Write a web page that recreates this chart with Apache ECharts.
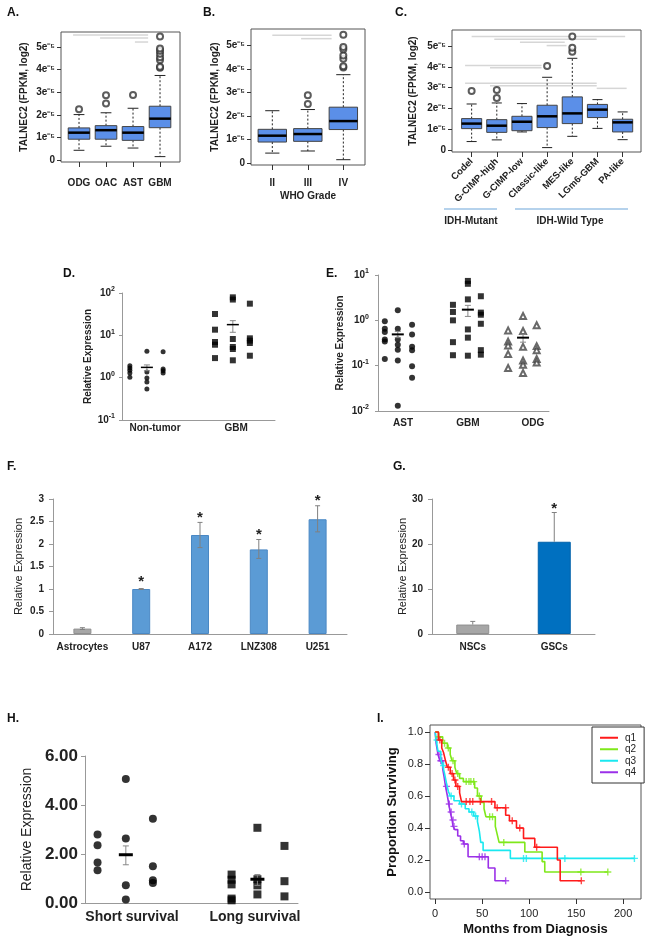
<!DOCTYPE html>
<html>
<head>
<meta charset="utf-8">
<script src="https://cdn.jsdelivr.net/npm/echarts@6/dist/echarts.min.js"></script>
<style>html,body{margin:0;padding:0;background:#fff}</style>
</head>
<body>
<div id="main" style="width:650px;height:947px"></div>
<script>
var FONT = '"Liberation Sans", Arial, sans-serif';

// ---- A: TCGA histology (values in 1e-5)
var catsA = ['ODG', 'OAC', 'AST', 'GBM'];
var boxA = [[0.43, 0.92, 1.21, 1.42, 2.01], [0.61, 0.92, 1.32, 1.52, 2.09], [0.53, 0.87, 1.21, 1.48, 2.29], [0.15, 1.43, 1.83, 2.38, 3.74]];
var outA = [[0, 2.25], [1, 2.5], [1, 2.87], [2, 2.88], [3, 4.08], [3, 4.13], [3, 4.42], [3, 4.55], [3, 4.7], [3, 4.83], [3, 4.93], [3, 5.47]];
var sigA = [[-0.22, 2.56, 5.53], [0.78, 2.56, 5.4], [2.07, 2.56, 5.22]];

// ---- B: WHO grade
var catsB = ['II', 'III', 'IV'];
var boxB = [[0.42, 0.89, 1.16, 1.43, 2.22], [0.51, 0.92, 1.23, 1.46, 2.27], [0.14, 1.42, 1.78, 2.37, 3.75]];
var outB = [[1, 2.51], [1, 2.88], [2, 4.05], [2, 4.11], [2, 4.43], [2, 4.57], [2, 4.83], [2, 4.93], [2, 5.45]];
var sigB = [[0, 1.67, 5.42], [0.81, 1.67, 5.28]];

// ---- C: subtypes
var catsC = ['Codel', 'G-CIMP-high', 'G-CIMP-low', 'Classic-like', 'MES-like', 'LGm6-GBM', 'PA-like'];
var boxC = [[0.42, 1.04, 1.28, 1.52, 2.22], [0.5, 0.86, 1.18, 1.47, 2.27], [0.88, 0.94, 1.37, 1.63, 2.24], [0.13, 1.09, 1.63, 2.16, 3.5],
            [0.67, 1.28, 1.77, 2.56, 4.41], [1.05, 1.57, 1.95, 2.2, 2.43], [0.51, 0.88, 1.34, 1.49, 1.84]];
var outC = [[0, 2.84], [1, 2.51], [1, 2.89], [3, 4.04], [4, 4.73], [4, 4.92], [4, 5.45]];
var sigC = [[0, 6.1, 5.45], [0.9, 4.97, 5.32], [1.92, 3.7, 5.18], [2.98, 3.77, 5.02], [-0.26, 2.78, 4.06], [0.73, 2.78, 3.96],
            [-0.26, 4.97, 3.21], [0.73, 4.97, 3.1], [4.97, 6.16, 2.97]];

// ---- D: non-tumor vs GBM (3 columns each)
var catsD = ['Non-tumor', 'GBM'];
var dotsD = [
    [[1.92, 1.69, 1.49, 1.29, 1.02], [4.19, 1.36, 0.98, 0.79, 0.54], [4.1, 1.6, 1.46, 1.29]],
    [[31.9, 13.6, 6.96, 6.0, 2.9], [79, 70, 8.2, 5.3, 4.75, 2.57], [56, 8.5, 7.5, 6.6, 3.3]]
];
var meanD = [[1.75, 1.46, 2.0], [17.9, 11.8, 22.2]];

// ---- E: AST / GBM / ODG
var catsE = ['AST', 'GBM', 'ODG'];
var dotsE = [
    [[0.95, 0.655, 0.55, 0.38, 0.34, 0.14], [1.66, 0.655, 0.38, 0.29, 0.225, 0.13, 0.013], [0.8, 0.49, 0.26, 0.22, 0.097, 0.054]],
    [[2.2, 1.53, 1.0, 0.33, 0.17], [7.4, 6.4, 2.9, 0.63, 0.415, 0.166], [3.4, 1.48, 1.33, 0.84, 0.22, 0.175]],
    [[0.6, 0.34, 0.28, 0.18, 0.089], [1.25, 0.58, 0.26, 0.13, 0.105, 0.069], [0.78, 0.27, 0.22, 0.14, 0.117]]
];
var meanE = [[0.49, 0.415, 0.57], [1.72, 1.22, 2.14], [0.415, 0.33, 0.49]];

// ---- F: cell lines
var catsF = ['Astrocytes', 'U87', 'A172', 'LNZ308', 'U251'];
var valF = [0.12, 1.0, 2.2, 1.88, 2.55];
var errF = [[0.1, 0.14], [0.99, 1.01], [1.92, 2.48], [1.68, 2.1], [2.27, 2.85]];
var starF = [null, 1.24, 2.68, 2.29, 3.05];

// ---- G: NSCs vs GSCs
var catsG = ['NSCs', 'GSCs'];
var valG = [2.1, 20.5];
var errG = [2.8, 27];
var starG = [null, 28.7];

// ---- H: survival groups
var catsH = ['Short survival', 'Long survival'];
var dotsH = [
    [[2.8, 2.36, 1.65, 1.34], [5.06, 2.63, 0.72, 0.14], [3.44, 1.5, 0.93, 0.82]],
    [[1.16, 0.95, 0.76, 0.18, 0.11], [3.07, 0.97, 0.72, 0.35], [2.33, 0.89, 0.27]]
];
var meanH = [[1.97, 1.56, 2.33], [0.97, 0.72, 1.16]];

// ---- I: Kaplan-Meier (months, proportion)
var kmNames = ['q1', 'q2', 'q3', 'q4'];
var kmQ1 = [[0, 1], [3.5, 0.95], [7, 0.9], [9, 0.87], [11, 0.82], [13, 0.78], [16, 0.74], [19.5, 0.7], [22, 0.66], [26, 0.62], [28, 0.565],
            [63.6, 0.527], [75, 0.48], [79, 0.445], [86.5, 0.4], [94, 0.335], [106, 0.28], [130, 0.2], [133, 0.07], [155.5, 0.07]];
var kmQ2 = [[0, 1], [3.5, 0.97], [8, 0.93], [13, 0.9], [16, 0.86], [18, 0.82], [21, 0.78], [23, 0.74], [26, 0.71], [30, 0.69], [42, 0.65],
            [45, 0.6], [49, 0.56], [52, 0.52], [54, 0.47], [64, 0.41], [66, 0.36], [68, 0.31], [95.4, 0.25], [113.8, 0.19], [116.6, 0.125], [183.7, 0.125]];
var kmQ3 = [[0, 1], [1, 0.95], [3, 0.88], [6, 0.83], [8, 0.79], [10, 0.74], [12, 0.68], [14, 0.63], [16, 0.6], [20, 0.57], [26, 0.55],
            [32, 0.52], [36, 0.5], [41, 0.475], [45, 0.44], [47, 0.38], [48.5, 0.31], [51, 0.26], [80, 0.21], [212, 0.21]];
var kmQ4 = [[0, 1], [1, 0.93], [3, 0.86], [5, 0.82], [8, 0.77], [9.5, 0.72], [11, 0.66], [13, 0.6], [14.5, 0.55], [16, 0.5], [18, 0.45],
            [19, 0.41], [21, 0.39], [24, 0.35], [27, 0.32], [30, 0.3], [35, 0.22], [56.5, 0.15], [63.6, 0.07], [75, 0.07]];
var cenQ1 = [[5, 0.95], [14, 0.78], [18, 0.74], [21, 0.7], [24, 0.66], [33, 0.565], [37, 0.565], [40, 0.565], [48, 0.565], [60, 0.565],
             [66, 0.527], [75, 0.527], [82, 0.445], [90, 0.4], [108, 0.28], [155.5, 0.07]];
var cenQ2 = [[4, 0.97], [10, 0.93], [14, 0.9], [19, 0.82], [24, 0.74], [33, 0.69], [36, 0.69], [38, 0.69], [41, 0.69], [47, 0.6],
             [58, 0.47], [61, 0.47], [73, 0.31], [155, 0.125], [183.7, 0.125]];
var cenQ3 = [[2, 0.95], [9, 0.79], [17, 0.6], [28, 0.55], [39, 0.5], [43, 0.475], [94, 0.21], [97, 0.21], [138, 0.21], [212, 0.21]];
var cenQ4 = [[4, 0.86], [6, 0.82], [7, 0.82], [12, 0.66], [15, 0.55], [17, 0.5], [19, 0.45], [20, 0.41], [31, 0.3], [47, 0.22],
             [50, 0.22], [53, 0.22], [75, 0.07]];
var kmColors = ['#ff1a1a', '#7fe81a', '#1ae8f0', '#9b30e8'];

// layout: column offsets of the dot plots (in category units)
var colD = [[-0.31, -0.1, 0.1], [-0.26, -0.04, 0.17]];
var colE = [[-0.28, -0.08, 0.14], [-0.23, 0, 0.2], [-0.38, -0.15, 0.06]];
var colH = [[-0.28, -0.05, 0.17], [-0.19, 0.02, 0.24]];

var chart = echarts.init(document.getElementById('main'));
var grids = [], xAxes = [], yAxes = [], series = [];
var graphic = [];

function addGrid(g, xa, ya) {
    var i = grids.length;
    g.outerBoundsMode = 'none';
    g.containLabel = false;
    grids.push(g);
    xa.gridIndex = i;
    ya.gridIndex = i;
    xAxes.push(xa);
    yAxes.push(ya);
    return i;
}

var boldLabel = { fontFamily: FONT, fontSize: 10, fontWeight: 'bold', color: '#222' };
var supRich = {
    b: { fontFamily: FONT, fontSize: 10, fontWeight: 'bold', color: '#222', lineHeight: 14 },
    s: { fontFamily: FONT, fontSize: 7, fontWeight: 'bold', color: '#222', lineHeight: 8, verticalAlign: 'top' }
};
function sciLabel(v) { return v === 0 ? '0' : v + 'e\u207b\u2075'; }
function logLabel(v) { var e = Math.round(Math.log(v) / Math.LN10); return '{b|10}{s|' + e + '}'; }

// ---- renderers
function renderBox(params, api) {
    var x = api.value(0);
    var p = [1, 2, 3, 4, 5].map(function (d) { return api.coord([x, api.value(d)]); });
    var w = api.size([0.8, 0])[0];
    var cx = p[0][0];
    var dash = { stroke: '#222', lineWidth: 1, lineDash: [2, 2] };
    var solid = { stroke: '#222', lineWidth: 1 };
    return { type: 'group', children: [
        { type: 'line', shape: { x1: cx, y1: p[3][1], x2: cx, y2: p[4][1] }, style: dash },
        { type: 'line', shape: { x1: cx, y1: p[1][1], x2: cx, y2: p[0][1] }, style: dash },
        { type: 'line', shape: { x1: cx - w / 4, y1: p[4][1], x2: cx + w / 4, y2: p[4][1] }, style: solid },
        { type: 'line', shape: { x1: cx - w / 4, y1: p[0][1], x2: cx + w / 4, y2: p[0][1] }, style: solid },
        { type: 'rect', shape: { x: cx - w / 2, y: p[3][1], width: w, height: p[1][1] - p[3][1] }, style: { fill: '#5b8fe8', stroke: '#444', lineWidth: 1 } },
        { type: 'line', shape: { x1: cx - w / 2, y1: p[2][1], x2: cx + w / 2, y2: p[2][1] }, style: { stroke: '#000', lineWidth: 2.5 } }
    ] };
}
function renderSig(params, api) {
    var a = api.coord([api.value(0), api.value(2)]);
    var b = api.coord([api.value(1), api.value(2)]);
    return { type: 'line', shape: { x1: a[0], y1: a[1], x2: b[0], y2: b[1] }, style: { stroke: '#d6d6d6', lineWidth: 1.5 } };
}
function meanRenderer(barW, barLW) {
    return function (params, api) {
        var x = api.value(0);
        var m = api.coord([x, api.value(1)]), lo = api.coord([x, api.value(2)]), hi = api.coord([x, api.value(3)]);
        var gs = { stroke: '#888', lineWidth: 1 };
        return { type: 'group', children: [
            { type: 'line', shape: { x1: m[0], y1: lo[1], x2: m[0], y2: hi[1] }, style: gs },
            { type: 'line', shape: { x1: m[0] - 3, y1: lo[1], x2: m[0] + 3, y2: lo[1] }, style: gs },
            { type: 'line', shape: { x1: m[0] - 3, y1: hi[1], x2: m[0] + 3, y2: hi[1] }, style: gs },
            { type: 'line', shape: { x1: m[0] - barW / 2, y1: m[1], x2: m[0] + barW / 2, y2: m[1] }, style: { stroke: '#000', lineWidth: barLW } }
        ] };
    };
}
function errRenderer(bothCaps) {
    return function (params, api) {
        var i = api.value(0);
        var lo = api.coord([i, api.value(1)]), hi = api.coord([i, api.value(2)]);
        var gs = { stroke: '#808080', lineWidth: 1 };
        var ch = [
            { type: 'line', shape: { x1: lo[0], y1: lo[1], x2: hi[0], y2: hi[1] }, style: gs },
            { type: 'line', shape: { x1: hi[0] - 2.5, y1: hi[1], x2: hi[0] + 2.5, y2: hi[1] }, style: gs }
        ];
        if (bothCaps) ch.push({ type: 'line', shape: { x1: lo[0] - 2.5, y1: lo[1], x2: lo[0] + 2.5, y2: lo[1] }, style: gs });
        return { type: 'group', children: ch };
    };
}
function renderStar(params, api) {
    var p = api.coord([api.value(0), api.value(1)]);
    return { type: 'text', x: p[0], y: p[1] + 4, style: { text: '*', fontFamily: FONT, fontSize: 15, fontWeight: 'bold', fill: '#222', align: 'center', verticalAlign: 'middle' } };
}

// ---- R style box panels (A, B, C); categories sit at 1..n on a value axis
function boxPanel(rect, cats, xr, yr, boxes, outs, sigs, opt) {
    var pos = cats.map(function (c, i) { return i + 1; });
    var gi = addGrid(
        { left: rect[0], top: rect[1], width: rect[2], height: rect[3], show: true, borderColor: '#555', borderWidth: 1 },
        { type: 'value', min: xr[0] + 1, max: xr[1] + 1, splitLine: { show: false }, axisLine: { show: false, onZero: false },
          axisTick: { show: true, customValues: pos, length: 5, lineStyle: { color: '#333' } },
          axisLabel: { customValues: pos, formatter: function (v) { return cats[Math.round(v) - 1]; }, margin: opt.xMargin, rotate: opt.rotate || 0,
                       fontFamily: FONT, fontSize: opt.xFont || 10, fontWeight: 'bold', color: '#222' } },
        { type: 'value', min: yr[0], max: yr[1], splitLine: { show: false }, axisLine: { show: false, onZero: false },
          axisTick: { show: true, customValues: [0, 1, 2, 3, 4, 5], length: 4, lineStyle: { color: '#333' } },
          axisLabel: { customValues: [0, 1, 2, 3, 4, 5], formatter: sciLabel, margin: 6, fontFamily: FONT, fontSize: 10, fontWeight: 'bold', color: '#222' } }
    );
    // axis titles as plain text
    graphic.push({ type: 'text', x: opt.yTitle[0], y: opt.yTitle[1], rotation: Math.PI / 2,
                   style: { text: 'TALNEC2 (FPKM, log2)', fontFamily: FONT, fontSize: 10, fontWeight: 'bold', fill: '#222', align: 'center', verticalAlign: 'middle' } });
    if (opt.xName) {
        graphic.push({ type: 'text', x: opt.xName[1], y: opt.xName[2],
                       style: { text: opt.xName[0], fontFamily: FONT, fontSize: 10, fontWeight: 'bold', fill: '#222', align: 'center', verticalAlign: 'middle' } });
    }
    series.push({ type: 'custom', xAxisIndex: gi, yAxisIndex: gi, renderItem: renderSig, encode: { x: [0, 1], y: 2 }, z: 1,
                  data: sigs.map(function (s) { return [s[0] + 1, s[1] + 1, s[2]]; }) });
    series.push({ type: 'custom', xAxisIndex: gi, yAxisIndex: gi, renderItem: renderBox, encode: { x: 0, y: [1, 2, 3, 4, 5] },
                  data: boxes.map(function (b, i) { return [pos[i]].concat(b); }), z: 2 });
    series.push({ type: 'scatter', xAxisIndex: gi, yAxisIndex: gi, symbol: 'emptyCircle', symbolSize: 6,
                  itemStyle: { color: '#333', borderWidth: 1 }, z: 3,
                  data: outs.map(function (o) { return [pos[o[0]], o[1]]; }) });
}

boxPanel([61, 32, 119, 130], catsA, [-0.667, 3.74], [-0.088, 5.664], boxA, outA, sigA, { xMargin: 16, yTitle: [24, 97] });
boxPanel([251, 29, 114, 136], catsB, [-0.6, 2.61], [-0.085, 5.69], boxB, outB, sigB, { xMargin: 13, yTitle: [215, 97], xName: ['WHO Grade', 308, 196] });
boxPanel([452, 30, 189, 122], catsC, [-0.78, 6.73], [-0.081, 5.767], boxC, outC, sigC, { xMargin: 8, yTitle: [413, 91], rotate: 45, xFont: 9.5 });

// ---- dot panels (D, E, H)
function dotPanel(rect, cats, xr, yAxis, dots, cols, means, markers, meanStyle, labelStyle) {
    var pos = cats.map(function (c, i) { return i + 1; });
    var gi = addGrid(
        { left: rect[0], top: rect[1], width: rect[2], height: rect[3] },
        { type: 'value', min: xr[0], max: xr[1], splitLine: { show: false },
          axisLine: { show: true, onZero: false, lineStyle: { color: '#999' } }, axisTick: { show: false },
          axisLabel: Object.assign({ customValues: pos, formatter: function (v) { return cats[Math.round(v) - 1]; } }, labelStyle) },
        yAxis
    );
    dots.forEach(function (group, c) {
        var pts = [];
        group.forEach(function (col, k) {
            col.forEach(function (v) { pts.push([pos[c] + cols[c][k], v]); });
        });
        series.push({ type: 'scatter', xAxisIndex: gi, yAxisIndex: gi, data: pts, symbol: markers[c].symbol,
                      symbolSize: markers[c].size, itemStyle: markers[c].style, z: 3 });
    });
    series.push({ type: 'custom', xAxisIndex: gi, yAxisIndex: gi, renderItem: meanRenderer(meanStyle[0], meanStyle[1]),
                  encode: { x: 0, y: [1, 2, 3] }, z: 4,
                  data: means.map(function (m, c) { return [pos[c] + cols[c][1]].concat(m); }) });
}

var grayAxis = { show: true, onZero: false, lineStyle: { color: '#999' } };

dotPanel([122, 293, 153, 127], catsD, [0.593, 2.48],
    { type: 'log', logBase: 10, min: 0.1, max: 100, splitLine: { show: false }, axisLine: grayAxis,
      axisTick: { show: true, length: 3, lineStyle: { color: '#999' } }, minorTick: { show: false },
      axisLabel: { formatter: logLabel, rich: supRich, margin: 7 },
      name: 'Relative Expression', nameLocation: 'middle', nameGap: 29, nameTextStyle: boldLabel },
    dotsD, colD, meanD,
    [{ symbol: 'circle', size: 5, style: { color: '#000' } }, { symbol: 'rect', size: 6, style: { color: '#000' } }],
    [12, 1.5], Object.assign({ margin: 3 }, boldLabel));

dotPanel([378, 275, 171, 136], catsE, [0.615, 3.25],
    { type: 'log', logBase: 10, min: 0.01, max: 10, splitLine: { show: false }, axisLine: grayAxis,
      axisTick: { show: true, length: 3, lineStyle: { color: '#999' } },
      axisLabel: { formatter: logLabel, rich: supRich, margin: 9 },
      name: 'Relative Expression', nameLocation: 'middle', nameGap: 33, nameTextStyle: boldLabel },
    dotsE, colE, meanE,
    [{ symbol: 'circle', size: 6, style: { color: '#000' } }, { symbol: 'rect', size: 6, style: { color: '#000' } },
     { symbol: 'emptyTriangle', size: 6, style: { color: '#444', borderWidth: 1 } }],
    [12, 2], Object.assign({ margin: 7 }, boldLabel));

dotPanel([85, 756, 213, 147], catsH, [0.618, 2.35],
    { type: 'value', min: 0, max: 6, interval: 2, splitLine: { show: false }, axisLine: grayAxis,
      axisTick: { show: true, length: 4, lineStyle: { color: '#999' } },
      axisLabel: { formatter: function (v) { return v.toFixed(2); }, margin: 7, fontFamily: FONT, fontSize: 17, fontWeight: 'bold', color: '#222' },
      name: 'Relative Expression', nameLocation: 'middle', nameGap: 51, nameTextStyle: { fontFamily: FONT, fontSize: 14, color: '#222' } },
    dotsH, colH, meanH,
    [{ symbol: 'circle', size: 8, style: { color: '#000' } }, { symbol: 'rect', size: 8, style: { color: '#000' } }],
    [14, 3], { margin: 7, fontFamily: FONT, fontSize: 14, fontWeight: 'bold', color: '#222' });

// ---- bar panels (F, G)
function barPanel(rect, cats, yMax, yInt, vals, colors, barW, yGap) {
    var gi = addGrid(
        { left: rect[0], top: rect[1], width: rect[2], height: rect[3] },
        { type: 'category', data: cats, axisLine: { show: true, lineStyle: { color: '#999' } }, axisTick: { show: false },
          axisLabel: Object.assign({ margin: 8, interval: 0 }, boldLabel) },
        { type: 'value', min: 0, max: yMax, interval: yInt, splitLine: { show: false }, axisLine: { show: true, lineStyle: { color: '#999' } },
          axisTick: { show: true, length: 4, lineStyle: { color: '#999' } }, axisLabel: Object.assign({ margin: 9 }, boldLabel),
          name: 'Relative Expression', nameLocation: 'middle', nameGap: yGap, nameTextStyle: { fontFamily: FONT, fontSize: 11, color: '#222' } }
    );
    series.push({ type: 'bar', xAxisIndex: gi, yAxisIndex: gi, barWidth: barW,
                  data: vals.map(function (v, i) { return { value: v, itemStyle: { color: colors[i][0], borderColor: colors[i][1], borderWidth: 1 } }; }) });
    return gi;
}

var fCols = [['#a6a6a6', '#8f8f8f'], ['#5b9bd5', '#4a88c4'], ['#5b9bd5', '#4a88c4'], ['#5b9bd5', '#4a88c4'], ['#5b9bd5', '#4a88c4']];
var gF = barPanel([53, 499, 294, 135], catsF, 3, 0.5, valF, fCols, 18, 29);
series.push({ type: 'custom', xAxisIndex: gF, yAxisIndex: gF, renderItem: errRenderer(true), encode: { x: 0, y: [1, 2] }, z: 4,
              data: errF.map(function (e, i) { return [i, e[0], e[1]]; }) });
series.push({ type: 'custom', xAxisIndex: gF, yAxisIndex: gF, renderItem: renderStar, encode: { x: 0, y: 1 }, z: 4,
              data: starF.map(function (s, i) { return s == null ? null : [i, s]; }).filter(Boolean) });

var gG = barPanel([432, 499, 163, 135], catsG, 30, 10, valG, [['#a6a6a6', '#8f8f8f'], ['#0070c0', '#0062aa']], 33, 24);
series.push({ type: 'custom', xAxisIndex: gG, yAxisIndex: gG, renderItem: errRenderer(false), encode: { x: 0, y: [1, 2] }, z: 4,
              data: errG.map(function (e, i) { return [i, valG[i], e]; }) });
series.push({ type: 'custom', xAxisIndex: gG, yAxisIndex: gG, renderItem: renderStar, encode: { x: 0, y: 1 }, z: 4,
              data: starG.map(function (s, i) { return s == null ? null : [i, s]; }).filter(Boolean) });

// ---- I: Kaplan-Meier
var gI = addGrid(
    { left: 430, top: 725, width: 211, height: 174, show: true, borderColor: '#555', borderWidth: 1 },
    { type: 'value', min: -5.5, max: 219, splitLine: { show: false }, axisLine: { show: false, onZero: false },
      axisTick: { show: true, customValues: [0, 50, 100, 150, 200], length: 5, lineStyle: { color: '#333' } },
      axisLabel: { customValues: [0, 50, 100, 150, 200], margin: 9, fontFamily: FONT, fontSize: 11, color: '#222' },
      name: 'Months from Diagnosis', nameLocation: 'middle', nameGap: 24, nameTextStyle: { fontFamily: FONT, fontSize: 13, fontWeight: 'bold', color: '#111' } },
    { type: 'value', min: -0.044, max: 1.044, splitLine: { show: false }, axisLine: { show: false, onZero: false },
      axisTick: { show: true, customValues: [0, 0.2, 0.4, 0.6, 0.8, 1.0], length: 5, lineStyle: { color: '#333' } },
      axisLabel: { customValues: [0, 0.2, 0.4, 0.6, 0.8, 1.0], formatter: function (v) { return v.toFixed(1); }, margin: 7,
                   fontFamily: FONT, fontSize: 11, color: '#222' },
      name: 'Proportion Surviving', nameLocation: 'middle', nameGap: 31, nameTextStyle: { fontFamily: FONT, fontSize: 13, fontWeight: 'bold', color: '#111' } }
);
var kmData = [kmQ1, kmQ2, kmQ3, kmQ4];
var cenData = [cenQ1, cenQ2, cenQ3, cenQ4];
var plus = 'path://M4,0H6V4H10V6H6V10H4V6H0V4H4Z';
kmNames.forEach(function (n, i) {
    series.push({ type: 'line', name: n, xAxisIndex: gI, yAxisIndex: gI, step: 'end', symbol: 'none', data: kmData[i],
                  lineStyle: { color: kmColors[i], width: 1.6 }, itemStyle: { color: kmColors[i] }, z: 3 + (4 - i) });
    series.push({ type: 'scatter', name: n + ' censored', xAxisIndex: gI, yAxisIndex: gI, symbol: plus, symbolSize: 7,
                  itemStyle: { color: kmColors[i] }, data: cenData[i], z: 3 + (4 - i) });
});

// ---- panel letters and group annotations
var letters = [['A.', 7, 13], ['B.', 203, 13], ['C.', 395, 13], ['D.', 63, 274], ['E.', 326, 274],
               ['F.', 7, 467], ['G.', 393, 467], ['H.', 7, 719], ['I.', 377, 719]];
letters.forEach(function (l) {
    graphic.push({ type: 'text', x: l[1], y: l[2], style: { text: l[0], fontFamily: FONT, fontSize: 12, fontWeight: 'bold', fill: '#111', verticalAlign: 'middle' } });
});
graphic.push({ type: 'line', shape: { x1: 444, y1: 209, x2: 497, y2: 209 }, style: { stroke: '#9dc3e6', lineWidth: 1.5 } });
graphic.push({ type: 'line', shape: { x1: 515, y1: 209, x2: 628, y2: 209 }, style: { stroke: '#9dc3e6', lineWidth: 1.5 } });
graphic.push({ type: 'text', x: 471, y: 221, style: { text: 'IDH-Mutant', fontFamily: FONT, fontSize: 10, fontWeight: 'bold', fill: '#222', align: 'center', verticalAlign: 'middle' } });
graphic.push({ type: 'text', x: 570, y: 221, style: { text: 'IDH-Wild Type', fontFamily: FONT, fontSize: 10, fontWeight: 'bold', fill: '#222', align: 'center', verticalAlign: 'middle' } });

chart.setOption({
    backgroundColor: '#fff',
    animation: false,
    grid: grids,
    xAxis: xAxes,
    yAxis: yAxes,
    series: series,
    graphic: graphic,
    legend: {
        data: kmNames, orient: 'vertical', left: 592, top: 727, icon: 'rect', itemWidth: 18, itemHeight: 2, itemGap: 0,
        padding: [5, 8, 5, 8], borderColor: '#333', borderWidth: 1, backgroundColor: '#fff', selectedMode: false,
        textStyle: { fontFamily: FONT, fontSize: 10, color: '#222', lineHeight: 11.5, padding: [0, 0, 0, 2] }
    }
});
</script>
</body>
</html>
